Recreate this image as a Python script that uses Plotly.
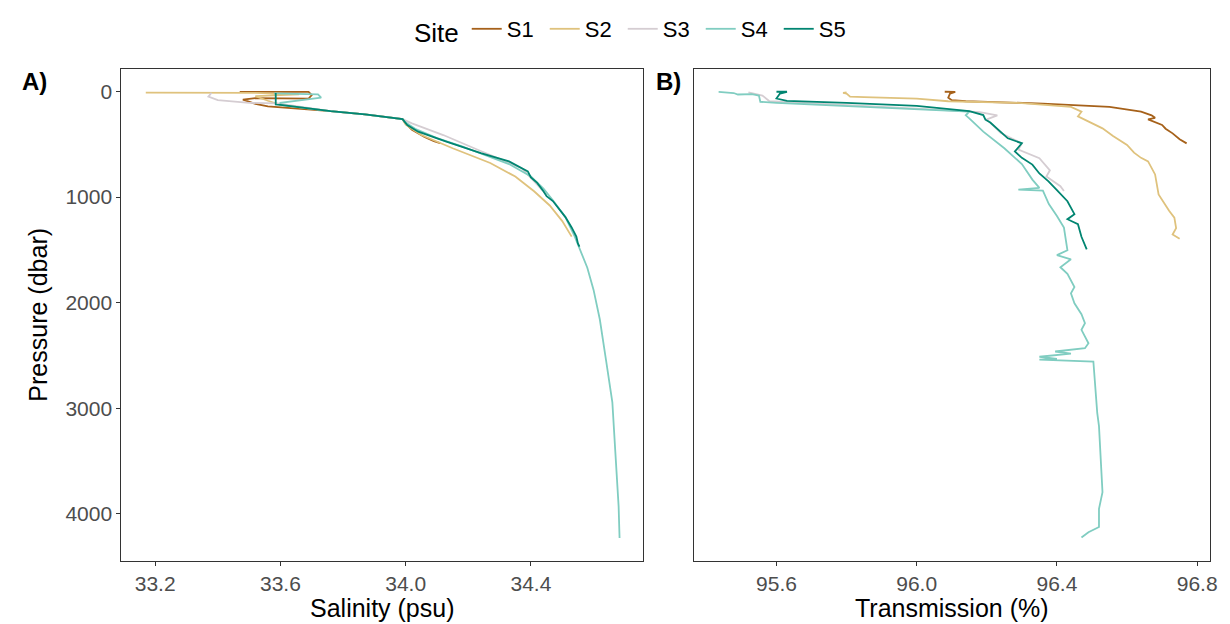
import plotly.graph_objects as go

# ---------------- data ----------------
sites = ["S1", "S2", "S3", "S4", "S5"]
colors = ["#a6611a", "#dfc27d", "#d5cdd2", "#80cdc1", "#018571"]

# Panel A: salinity (psu) vs pressure (dbar)
sal_S1 = [33.47, 33.69, 33.70, 33.69, 33.52, 33.48, 33.52, 33.56, 33.76, 33.87, 33.99, 34.00, 34.02, 34.06, 34.09, 34.11]
salp_S1 = [5, 5, 35, 68, 63, 78, 118, 142, 187, 218, 263, 305, 362, 432, 470, 490]

sal_S2 = [33.17, 33.38, 33.52, 33.66, 33.52, 33.56, 33.60, 33.76, 33.87, 33.99, 34.00, 34.05, 34.15, 34.27, 34.35, 34.41, 34.46, 34.50, 34.53]
salp_S2 = [12, 12, 13, 27, 44, 88, 128, 187, 218, 263, 315, 413, 538, 678, 806, 945, 1080, 1228, 1375]

sal_S3 = [33.38, 33.37, 33.40, 33.50, 33.59, 33.76, 33.87, 33.99, 34.02, 34.12, 34.23, 34.30, 34.37, 34.42, 34.45]
salp_S3 = [12, 49, 83, 108, 114, 187, 218, 263, 303, 413, 552, 640, 727, 882, 980]

sal_S4 = [33.58, 33.66, 33.72, 33.73, 33.68, 33.60, 33.60, 33.76, 33.87, 33.99, 34.00, 34.03, 34.10, 34.18, 34.25,
          34.33, 34.40, 34.44, 34.47, 34.51, 34.54, 34.56, 34.58, 34.60, 34.62, 34.64, 34.66, 34.67, 34.68, 34.683]
salp_S4 = [18, 20, 28, 59, 78, 108, 128, 187, 218, 263, 295, 354, 442, 520, 600,
           688, 806, 920, 1030, 1190, 1375, 1520, 1670, 1880, 2160, 2550, 2945, 3440, 3930, 4230]

sal_S5 = [33.585, 33.585, 33.60, 33.76, 33.87, 33.99, 34.005, 34.04, 34.13, 34.24, 34.33, 34.39, 34.40, 34.42,
          34.44, 34.45, 34.47, 34.51, 34.53, 34.545, 34.55, 34.555]
salp_S5 = [15, 124, 128, 187, 218, 263, 318, 381, 475, 585, 663, 757, 815, 866,
           945, 992, 1038, 1190, 1288, 1375, 1440, 1470]

# Panel B: transmission (%) vs pressure (dbar)
tr_S1 = [96.08, 96.11, 96.095, 96.09, 96.10, 96.14, 96.36, 96.55, 96.64, 96.67, 96.68, 96.66, 96.70, 96.71, 96.73, 96.75, 96.77]
trp_S1 = [3, 5, 20, 59, 83, 93, 115, 147, 192, 226, 250, 265, 317, 353, 397, 452, 492]

tr_S2 = [95.80, 95.79, 95.80, 95.81, 95.85, 96.00, 96.09, 96.30, 96.44, 96.47, 96.46, 96.48, 96.53, 96.56, 96.58, 96.60,
         96.62, 96.64, 96.66, 96.67, 96.68, 96.69, 96.71, 96.72, 96.735, 96.74, 96.73, 96.75]
trp_S2 = [8, 14, 20, 49, 54, 69, 93, 110, 147, 192, 236, 268, 350, 422, 461, 506,
          580, 629, 663, 727, 786, 975, 1080, 1130, 1195, 1295, 1355, 1395]

tr_S3 = [95.52, 95.56, 95.58, 95.80, 96.00, 96.18, 96.23, 96.20, 96.24, 96.30, 96.29, 96.35, 96.38, 96.37, 96.41, 96.42]
trp_S3 = [8, 39, 93, 128, 162, 196, 226, 265, 393, 491, 550, 632, 747, 806, 898, 943]

tr_S4 = [95.435, 95.478, 95.49, 95.53, 95.55, 95.554, 95.60, 95.80, 96.00, 96.15, 96.14, 96.15, 96.19, 96.25, 96.30,
         96.33, 96.35, 96.29, 96.36, 96.377, 96.40, 96.42, 96.43, 96.40, 96.44, 96.41, 96.43, 96.45, 96.44, 96.45,
         96.47, 96.48, 96.47, 96.49, 96.48, 96.395, 96.44, 96.35, 96.40, 96.35, 96.504, 96.51, 96.515, 96.52,
         96.525, 96.53, 96.52, 96.52, 96.49, 96.47]
trp_S4 = [5, 15, 29, 25, 39, 98, 108, 137, 167, 192, 226, 255, 381, 538, 688,
          835, 914, 929, 940, 1067, 1180, 1290, 1505, 1550, 1590, 1665, 1727, 1852, 1913, 2006,
          2110, 2195, 2258, 2385, 2432, 2463, 2484, 2513, 2532, 2541, 2558, 2853, 3044, 3170,
          3482, 3795, 3953, 4125, 4175, 4225]

tr_S5 = [95.60, 95.63, 95.61, 95.60, 95.63, 95.80, 96.00, 96.15, 96.19, 96.196, 96.21, 96.26, 96.30, 96.28, 96.30,
         96.33, 96.35, 96.376, 96.40, 96.43, 96.45, 96.43, 96.46, 96.47, 96.485]
trp_S5 = [3, 3, 20, 67, 90, 108, 137, 187, 224, 268, 295, 444, 491, 569, 629,
          693, 777, 851, 934, 1040, 1162, 1210, 1257, 1377, 1495]

sal_x = [sal_S1, sal_S2, sal_S3, sal_S4, sal_S5]
sal_y = [salp_S1, salp_S2, salp_S3, salp_S4, salp_S5]
tr_x = [tr_S1, tr_S2, tr_S3, tr_S4, tr_S5]
tr_y = [trp_S1, trp_S2, trp_S3, trp_S4, trp_S5]

x1_ticks = [33.2, 33.6, 34.0, 34.4]
x2_ticks = [95.6, 96.0, 96.4, 96.8]
y_ticks = [0, 1000, 2000, 3000, 4000]

# ---------------- figure ----------------
W, H = 1230, 624
fig = go.Figure()
for i, s in enumerate(sites):
    fig.add_trace(go.Scatter(x=sal_x[i], y=sal_y[i], mode="lines", name=s,
                             line=dict(color=colors[i], width=1.8), xaxis="x", yaxis="y",
                             legendgroup=s, showlegend=True))
for i, s in enumerate(sites):
    fig.add_trace(go.Scatter(x=tr_x[i], y=tr_y[i], mode="lines", name=s,
                             line=dict(color=colors[i], width=1.8), xaxis="x2", yaxis="y2",
                             legendgroup=s, showlegend=False))

font_family = "Liberation Sans, Arial, sans-serif"
tick_font = dict(family=font_family, size=21, color="#4d4d4d")
title_font = dict(family=font_family, size=25, color="black")

common = dict(showgrid=False, zeroline=False, showline=True, linecolor="#333333", linewidth=1,
              mirror=True, ticks="outside", ticklen=4, tickcolor="#333333", tickfont=tick_font)

ax_l, ax_r = 114, 639
bx_l, bx_r = 690, 1209
p_top, p_bot = 57, 552.5

fig.update_layout(
    width=W, height=H,
    margin=dict(l=0, r=0, t=0, b=0),
    paper_bgcolor="white", plot_bgcolor="white",
    xaxis=dict(domain=[ax_l / W, ax_r / W], range=[33.092, 34.759], tickvals=x1_ticks,
               ticktext=["33.2", "33.6", "34.0", "34.4"], anchor="y", ticklabelstandoff=0, **common),
    xaxis2=dict(domain=[bx_l / W, bx_r / W], range=[95.365, 96.837], tickvals=x2_ticks,
                ticktext=["95.6", "96.0", "96.4", "96.8"], anchor="y2", ticklabelstandoff=0, **common),
    yaxis=dict(domain=[1 - p_bot / H, 1 - p_top / H], range=[4447, -216], tickvals=y_ticks,
               anchor="x", **common),
    yaxis2=dict(domain=[1 - p_bot / H, 1 - p_top / H], range=[4447, -216], anchor="x2", matches="y",
                showgrid=False, zeroline=False, showline=True, linecolor="#333333", linewidth=1,
                mirror=True, ticks="", showticklabels=False),
    legend=dict(orientation="h", x=630 / W, xanchor="center", y=1 - 18 / H, yanchor="middle",
                title=dict(text="Site", font=dict(family=font_family, size=26, color="black")),
                font=dict(family=font_family, size=22, color="black"),
                itemwidth=30, entrywidth=33, tracegroupgap=0, bgcolor="rgba(0,0,0,0)"),
    annotations=[
        dict(text="<b>A)</b>", x=12 / W, y=1 - 70 / H, xref="paper", yref="paper", showarrow=False,
             xanchor="left", yanchor="middle", font=dict(family=font_family, size=24, color="black")),
        dict(text="<b>B)</b>", x=650 / W, y=1 - 70 / H, xref="paper", yref="paper", showarrow=False,
             xanchor="left", yanchor="middle", font=dict(family=font_family, size=24, color="black")),
        dict(text="Salinity (psu)", x=(ax_l + ax_r) / 2 / W, y=1 - 600 / H, xref="paper", yref="paper",
             showarrow=False, xanchor="center", yanchor="middle", font=title_font),
        dict(text="Transmission (%)", x=(bx_l + bx_r) / 2 / W, y=1 - 600 / H, xref="paper", yref="paper",
             showarrow=False, xanchor="center", yanchor="middle", font=title_font),
        dict(text="Pressure (dbar)", x=30 / W, y=1 - (p_top + p_bot) / 2 / H, xref="paper", yref="paper",
             showarrow=False, xanchor="center", yanchor="middle", textangle=-90, font=title_font),
    ],
)

fig.write_html("out.html")
